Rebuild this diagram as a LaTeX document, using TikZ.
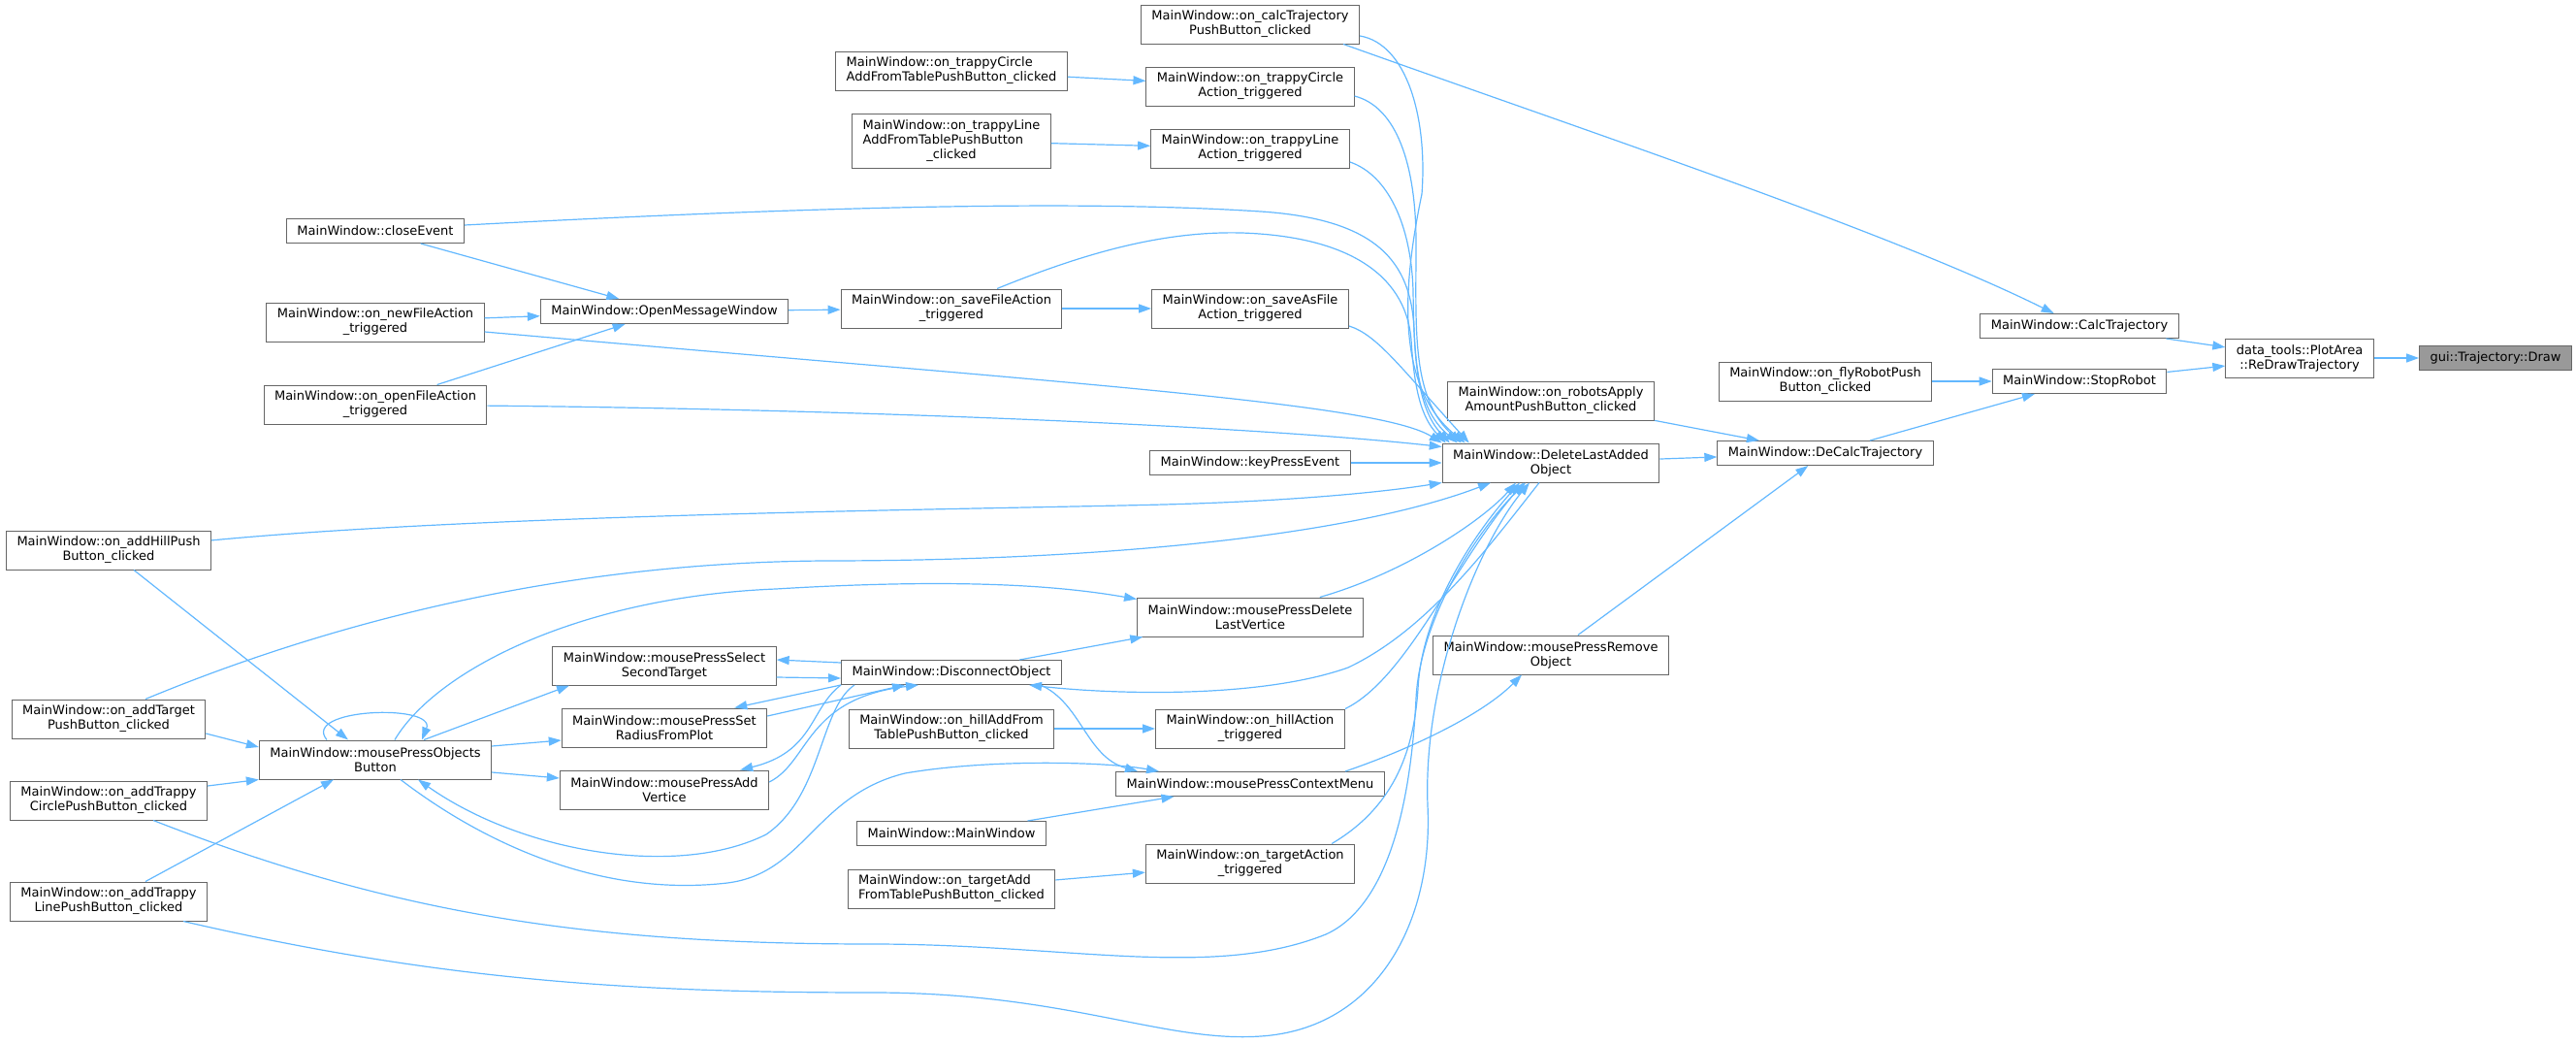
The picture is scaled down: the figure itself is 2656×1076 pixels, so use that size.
\documentclass[tikz,border=0pt]{standalone}
\usepackage{fontspec}
\setmainfont{DejaVu Sans}
\usetikzlibrary{arrows.meta}
\definecolor{edgeblue}{HTML}{63B8FF}
\definecolor{boxline}{HTML}{666666}
\definecolor{rootfill}{HTML}{999999}
\begin{document}
\begin{tikzpicture}[x=0.5pt,y=-0.5pt,
	fn/.style={draw=boxline,fill=white,line width=0.5pt,font=\fontsize{6.5}{7.5}\selectfont,align=center,inner xsep=5.5pt,inner ysep=1pt,minimum height=12.5pt},
	fn2/.style={fn,minimum height=20pt},
	fn3/.style={fn,minimum height=28pt},
	root/.style={fn,fill=rootfill},
	call/.style={draw=edgeblue,line width=0.6pt,-{Triangle[length=6.5pt,width=4.5pt]}}]
			\useasboundingbox (0,0) rectangle (2656,1076);
			
			\node[root] (draw) at (2573,369) {gui::Trajectory::Draw};
			\node[fn2] (redraw) at (2371,369) {data\_tools::PlotArea\\::ReDrawTrajectory};
			\node[fn] (calc) at (2144,336) {MainWindow::CalcTrajectory};
			\node[fn] (stop) at (2144,393) {MainWindow::StopRobot};
			\node[fn2] (flybtn) at (1882,393) {MainWindow::on\_flyRobotPush\\Button\_clicked};
			\node[fn] (decalc) at (1882,467) {MainWindow::DeCalcTrajectory};
			\node[fn2] (robots) at (1599,413) {MainWindow::on\_robotsApply\\AmountPushButton\_clicked};
			\node[fn2] (dellast) at (1599,477) {MainWindow::DeleteLastAdded\\Object};
			\node[fn2] (remove) at (1599,675) {MainWindow::mousePressRemove\\Object};
			
			\node[fn2] (calcbtn) at (1289,25) {MainWindow::on\_calcTrajectory\\PushButton\_clicked};
			\node[fn2] (circleact) at (1289,89) {MainWindow::on\_trappyCircle\\Action\_triggered};
			\node[fn2] (lineact) at (1289,153) {MainWindow::on\_trappyLine\\Action\_triggered};
			\node[fn2] (saveas) at (1289,318) {MainWindow::on\_saveAsFile\\Action\_triggered};
			\node[fn] (keypress) at (1289,477) {MainWindow::keyPressEvent};
			\node[fn2] (delvert) at (1289,636) {MainWindow::mousePressDelete\\LastVertice};
			\node[fn2] (hillact) at (1289,751) {MainWindow::on\_hillAction\\\_triggered};
			\node[fn] (context) at (1289,808) {MainWindow::mousePressContextMenu};
			\node[fn2] (targetact) at (1289,890) {MainWindow::on\_targetAction\\\_triggered};
			
			\node[fn2,align=left] (circletab) at (981,73) {MainWindow::on\_trappyCircle\\AddFromTablePushButton\_clicked};
			\node[fn3] (linetab) at (981,145) {\begin{tabular}{@{}l@{}}MainWindow::on\_trappyLine\\AddFromTablePushButton\\\multicolumn{1}{@{}c@{}}{\_clicked}\end{tabular}};
			\node[fn2] (savefile) at (981,318) {MainWindow::on\_saveFileAction\\\_triggered};
			\node[fn] (disconnect) at (981,693) {MainWindow::DisconnectObject};
			\node[fn2] (hilltab) at (981,751) {MainWindow::on\_hillAddFrom\\TablePushButton\_clicked};
			\node[fn] (mainwin) at (981,859) {MainWindow::MainWindow};
			\node[fn2,align=left] (targettab) at (981,916) {MainWindow::on\_targetAdd\\FromTablePushButton\_clicked};
			
			\node[fn] (openmsg) at (685,321) {MainWindow::OpenMessageWindow};
			\node[fn2] (select) at (685,686) {MainWindow::mousePressSelect\\SecondTarget};
			\node[fn2] (radius) at (685,750) {MainWindow::mousePressSet\\RadiusFromPlot};
			\node[fn2] (addvert) at (685,814) {MainWindow::mousePressAdd\\Vertice};
			
			\node[fn] (close) at (387,238) {MainWindow::closeEvent};
			\node[fn2] (newfile) at (387,332) {MainWindow::on\_newFileAction\\\_triggered};
			\node[fn2] (openfile) at (387,417) {MainWindow::on\_openFileAction\\\_triggered};
			\node[fn2] (objbtn) at (387,783) {MainWindow::mousePressObjects\\Button};
			
			\node[fn2] (hillbtn) at (112,567) {MainWindow::on\_addHillPush\\Button\_clicked};
			\node[fn2] (targetbtn) at (112,741) {MainWindow::on\_addTarget\\PushButton\_clicked};
			\node[fn2] (circlebtn) at (112,825) {MainWindow::on\_addTrappy\\CirclePushButton\_clicked};
			\node[fn2] (linebtn) at (112,929) {MainWindow::on\_addTrappy\\LinePushButton\_clicked};
			
			% right part
			\draw[call] (redraw) -- (draw);
			\draw[call] (calc) -- (redraw);
			\draw[call] (stop) -- (redraw);
			\draw[call] ([xshift=-8.5pt]calcbtn.south east) .. controls (1650,140) and (1950,240) .. (calc);
			\draw[call] (flybtn) -- (stop);
			\draw[call] (decalc) -- (stop);
			\draw[call] (dellast) -- (decalc);
			\draw[call] (robots) -- (decalc);
			\draw[call] (remove) -- (decalc);
			\draw[call] ([xshift=49pt]context.north) .. controls (1460,770) and (1530,735) .. ([xshift=-15pt]remove.south);
			
			% into DeleteLastAddedObject
			\draw[call] ([yshift=-6pt]calcbtn.east) .. controls (1450,45) and (1472,120) .. (1466,200) .. controls (1445,300) and (1440,400) .. ([xshift=12pt]dellast.north west);
			\draw[call] ([yshift=-5pt]circleact.east) .. controls (1440,110) and (1460,170) .. (1460,250) .. controls (1460,340) and (1455,410) .. ([xshift=10pt]dellast.north west);
			\draw[call] ([yshift=-7pt]lineact.east) .. controls (1430,180) and (1455,230) .. (1457,300) .. controls (1458,370) and (1460,420) .. ([xshift=8pt]dellast.north west);
			\draw[call] ([yshift=3pt]close.east) .. controls (800,215) and (1100,205) .. (1300,218) .. controls (1420,226) and (1455,270) .. (1458,340) .. controls (1460,400) and (1470,430) .. ([xshift=4pt]dellast.north west);
			\draw[call] ([xshift=23.5pt]savefile.north) .. controls (1120,260) and (1200,238) .. (1280,240) .. controls (1400,244) and (1450,290) .. (1455,350) .. controls (1458,400) and (1465,430) .. ([xshift=2pt]dellast.north west);
			\draw[call] ([yshift=-9pt]saveas.east) .. controls (1420,345) and (1445,380) .. ([xshift=14pt]dellast.north west);
			\draw[call] ([yshift=-5pt]newfile.east) .. controls (1100,395) and (1420,415) .. (dellast.north west);
			\draw[call] (openfile) .. controls (900,422) and (1300,440) .. ([yshift=-2pt]dellast.north west);
			\draw[call] (keypress) -- (dellast);
			\draw[call] (hillbtn) .. controls (500,530) and (1000,525) .. (1200,520) .. controls (1350,516) and (1440,505) .. (dellast.south west);
			\draw[call] ([xshift=19pt]targetbtn.north) .. controls (320,650) and (560,580) .. (850,578) .. controls (1150,578) and (1400,550) .. ([xshift=-31pt]dellast.south);
			\draw[call] (delvert) .. controls (1450,590) and (1530,535) .. ([xshift=-18pt]dellast.south);
			\draw[call] (hillact.north east) .. controls (1450,700) and (1500,580) .. ([xshift=-14pt]dellast.south);
			\draw[call] ([xshift=-12pt]targetact.north east) .. controls (1440,830) and (1458,770) .. (1462,710) .. controls (1466,630) and (1520,550) .. ([xshift=-16pt]dellast.south);
			\draw[call] ([xshift=23pt]circlebtn.south) .. controls (400,940) and (600,973) .. (900,973) .. controls (1100,973) and (1250,1010) .. (1367,963) .. controls (1440,930) and (1456,800) .. (1460,720) .. controls (1464,640) and (1520,550) .. ([xshift=-13pt]dellast.south);
			\draw[call] ([xshift=38.5pt]linebtn.south) .. controls (450,1010) and (650,1023) .. (900,1023) .. controls (1100,1023) and (1200,1075) .. (1300,1068) .. controls (1420,1060) and (1478,950) .. (1472,830) .. controls (1467,700) and (1525,560) .. ([xshift=-11pt]dellast.south);
			
			% around DisconnectObject
			\draw[call] ([xshift=-6pt]dellast.south) .. controls (1530,570) and (1470,650) .. (1390,688) .. controls (1300,720) and (1150,716) .. ([xshift=40pt]disconnect.south);
			\draw[call] (disconnect) -- (delvert);
			\draw[call] ([xshift=10pt]objbtn.north) .. controls (450,690) and (600,615) .. (800,607) .. controls (1000,595) and (1100,605) .. ([yshift=-1pt]delvert.north west);
			\draw[call] ([yshift=5pt]disconnect.west) -- ([yshift=3pt]select.east);
			\draw[call] ([yshift=-6pt]select.east) -- ([yshift=-3pt]disconnect.west);
			\draw[call] (disconnect.south west) -- ([xshift=-17pt]radius.north east);
			\draw[call] ([yshift=6pt]radius.east) -- ([xshift=-24pt]disconnect.south);
			\draw[call] (disconnect.south west) .. controls (835,730) and (840,775) .. ([xshift=-15pt]addvert.north east);
			\draw[call] ([yshift=4pt]addvert.east) .. controls (835,785) and (830,720) .. ([xshift=-17pt]disconnect.south);
			\draw[call] ([xshift=-50pt]disconnect.south) .. controls (845,730) and (848,820) .. (790,860) .. controls (700,905) and (540,880) .. ([xshift=22pt]objbtn.south);
			\draw[call] ([xshift=13pt]objbtn.south) .. controls (500,870) and (620,925) .. (750,910) .. controls (830,900) and (840,820) .. (933,797) .. controls (1020,782) and (1140,785) .. ([xshift=-47pt]context.north);
			\draw[call] ([xshift=46pt]disconnect.south) .. controls (1115,725) and (1120,780) .. ([xshift=-58pt]context.north);
			\draw[call] (mainwin) -- (context);
			
			% mousePressObjectsButton
			\draw[call] ([xshift=25pt]objbtn.north) -- ([xshift=-49pt]select.south);
			\draw[call] ([yshift=7pt]objbtn.east) -- ([yshift=-6.5pt]radius.west);
			\draw[call] ([yshift=-6.5pt]objbtn.east) -- ([yshift=6pt]addvert.west);
			\draw[call] ([xshift=-25pt]objbtn.north) .. controls (310,730) and (450,725) .. ([xshift=24pt]objbtn.north);
			\draw[call] ([xshift=13pt]hillbtn.south) -- ([xshift=-14pt]objbtn.north);
			\draw[call] ([yshift=-7.5pt]targetbtn.east) -- ([yshift=6.5pt]objbtn.west);
			\draw[call] ([yshift=7.5pt]circlebtn.east) -- (objbtn.south west);
			\draw[call] ([xshift=19pt]linebtn.north) -- ([xshift=-21.5pt]objbtn.south);
			
			% short ones
			\draw[call] (hilltab) -- (hillact);
			\draw[call] (targettab) -- (targetact);
			\draw[call] (circletab) -- (circleact);
			\draw[call] (linetab) -- (lineact);
			\draw[call] (savefile) -- (saveas);
			\draw[call] (openmsg) -- (savefile);
			\draw[call] (close) -- (openmsg);
			\draw[call] (newfile) -- (openmsg);
			\draw[call] (openfile) -- (openmsg);
			\end{tikzpicture}
\end{document}
